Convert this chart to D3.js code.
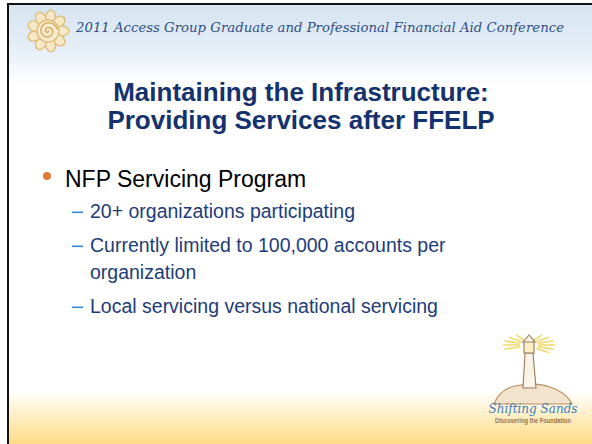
<!DOCTYPE html>
<html>
<head>
<meta charset="utf-8">
<script src="https://cdn.jsdelivr.net/npm/d3@7"></script>
<style>
  body { margin: 0; background: #fff; }
  svg { display: block; }
</style>
</head>
<body>
<div id="slide"></div>
<script>
let width = 592
let height = 444

// slide content
let headerText = "2011 Access Group Graduate and Professional Financial Aid Conference"
let titleLines = ["Maintaining the Infrastructure:", "Providing Services after FFELP"]
let bulletText = "NFP Servicing Program"
let subBullets = [
    ["20+ organizations participating"],
    ["Currently limited to 100,000 accounts per", "organization"],
    ["Local servicing versus national servicing"]
]
let logoWords = ["Shifting Sands", "Discovering the Foundation"]

let svg = d3.select("#slide")
    .append("svg")
    .attr("width", width)
    .attr("height", height)

let defs = svg.append("defs")

let topGrad = defs.append("linearGradient")
    .attr("id", "topGrad").attr("x1", 0).attr("y1", 0).attr("x2", 0).attr("y2", 1)
topGrad.append("stop").attr("offset", "0%").attr("stop-color", "#d5e4f1")
topGrad.append("stop").attr("offset", "55%").attr("stop-color", "#e5eef7")
topGrad.append("stop").attr("offset", "100%").attr("stop-color", "#ffffff")

let botGrad = defs.append("linearGradient")
    .attr("id", "botGrad").attr("x1", 0).attr("y1", 0).attr("x2", 0).attr("y2", 1)
botGrad.append("stop").attr("offset", "0%").attr("stop-color", "#ffffff")
botGrad.append("stop").attr("offset", "30%").attr("stop-color", "#fff5dc")
botGrad.append("stop").attr("offset", "100%").attr("stop-color", "#fddb84")

// background bands
svg.append("rect").attr("x", 7).attr("y", 3).attr("width", width - 7).attr("height", 82)
    .attr("fill", "url(#topGrad)")
svg.append("rect").attr("x", 7).attr("y", 390).attr("width", width - 7).attr("height", height - 390)
    .attr("fill", "url(#botGrad)")

// frame lines (left and top)
svg.append("rect").attr("x", 7).attr("y", 3).attr("width", 2).attr("height", height - 3).attr("fill", "#111")
svg.append("rect").attr("x", 7).attr("y", 3).attr("width", width - 7).attr("height", 2).attr("fill", "#111")

// sun logo
let sun = svg.append("g").attr("transform", "translate(48,31)")
let petals = d3.range(9)
sun.selectAll("ellipse.petal").data(petals).enter()
    .append("ellipse")
    .attr("class", "petal")
    .attr("cx", 0).attr("cy", -14)
    .attr("rx", 5).attr("ry", 7)
    .attr("transform", d => `rotate(${d * 40 + 10})`)
    .attr("fill", "#f5e8c6")
    .attr("stroke", "#dfbd7a")
    .attr("stroke-width", 1.4)
sun.append("circle").attr("r", 11).attr("fill", "#f7ecd0").attr("stroke", "#dfbd7a").attr("stroke-width", 1.4)
let spiral = d3.range(0, 4 * Math.PI, 0.2).map(t => [Math.cos(t) * t * 0.75, Math.sin(t) * t * 0.75])
sun.append("path")
    .attr("d", d3.line()(spiral))
    .attr("fill", "none")
    .attr("stroke", "#d9ad5e")
    .attr("stroke-width", 1.5)

// header script text
svg.append("text")
    .attr("x", 76).attr("y", 32)
    .attr("textLength", 488)
    .attr("lengthAdjust", "spacingAndGlyphs")
    .style("font-family", "'DejaVu Serif', serif")
    .style("font-style", "italic")
    .style("font-size", "13px")
    .style("fill", "#2f4f86")
    .text(headerText)

// title
let title = svg.append("g")
title.selectAll("text").data(titleLines).enter()
    .append("text")
    .attr("x", 301)
    .attr("y", (d, i) => 101 + i * 28)
    .attr("text-anchor", "middle")
    .style("font-family", "'Liberation Sans', Arial, sans-serif")
    .style("font-weight", "bold")
    .style("font-size", "26px")
    .style("fill", "#14326d")
    .text(d => d)

// main bullet
svg.append("circle").attr("cx", 47).attr("cy", 176).attr("r", 4).attr("fill", "#e07b39")
svg.append("text")
    .attr("x", 65).attr("y", 187)
    .style("font-family", "'Liberation Sans', Arial, sans-serif")
    .style("font-size", "23px")
    .style("fill", "#000")
    .text(bulletText)

// sub bullets
let rows = []
let y = 218
subBullets.forEach(function(lines){
    lines.forEach(function(line, j){
        rows.push({ text: line, y: y, first: j === 0 })
        y += 27
    })
    y += 7
})

let sub = svg.append("g")
sub.selectAll("rect.dash").data(rows.filter(d => d.first)).enter()
    .append("rect")
    .attr("class", "dash")
    .attr("x", 72).attr("y", d => d.y - 6.5)
    .attr("width", 11).attr("height", 1.6)
    .attr("fill", "#3a86d6")
sub.selectAll("text.line").data(rows).enter()
    .append("text")
    .attr("class", "line")
    .attr("x", 90).attr("y", d => d.y)
    .style("font-family", "'Liberation Sans', Arial, sans-serif")
    .style("font-size", "19.5px")
    .style("fill", "#1d3c78")
    .text(d => d.text)

// lighthouse logo
let lh = svg.append("g")
// light rays
let rays = [-60, -40, -20, 0, 20, 40, 160, 180, 200, 220, 240]
lh.selectAll("line.ray").data(rays).enter()
    .append("line")
    .attr("class", "ray")
    .attr("x1", d => 529 + Math.cos(d * Math.PI / 180) * 9)
    .attr("y1", d => 345 + Math.sin(d * Math.PI / 180) * 5)
    .attr("x2", d => 529 + Math.cos(d * Math.PI / 180) * 26)
    .attr("y2", d => 345 + Math.sin(d * Math.PI / 180) * 12)
    .attr("stroke", "#f3d96e")
    .attr("stroke-width", 1.6)
// rock
lh.append("path")
    .attr("d", "M494,404 C498,394 505,388 515,386 C525,384 540,383 550,387 C560,390 568,396 572,404 Z")
    .attr("fill", "#f2e3cc")
    .attr("stroke", "#b98d5f")
    .attr("stroke-width", 1.2)
// tower
lh.append("path")
    .attr("d", "M523,388 L525,353 L533,353 L536,388 Z")
    .attr("fill", "#fbf3e6")
    .attr("stroke", "#9b7a5a")
    .attr("stroke-width", 1.1)
lh.append("rect").attr("x", 524).attr("y", 341).attr("width", 10).attr("height", 12)
    .attr("fill", "#fdf0c8").attr("stroke", "#9b7a5a").attr("stroke-width", 1.1)
lh.append("path").attr("d", "M523,342 L529,335 L535,342 Z")
    .attr("fill", "#fbf3e6").attr("stroke", "#9b7a5a").attr("stroke-width", 1.1)
lh.append("text")
    .attr("x", 533).attr("y", 413)
    .attr("text-anchor", "middle")
    .style("font-family", "'DejaVu Serif', serif")
    .style("font-style", "italic")
    .style("font-size", "12px")
    .style("fill", "#3c7fb8")
    .text(logoWords[0])
lh.append("text")
    .attr("x", 533).attr("y", 423)
    .attr("text-anchor", "middle")
    .attr("textLength", 76)
    .attr("lengthAdjust", "spacingAndGlyphs")
    .style("font-family", "'Liberation Sans', Arial, sans-serif")
    .style("font-weight", "bold")
    .style("font-size", "7px")
    .style("fill", "#a0703f")
    .text(logoWords[1])
</script>
</body>
</html>
